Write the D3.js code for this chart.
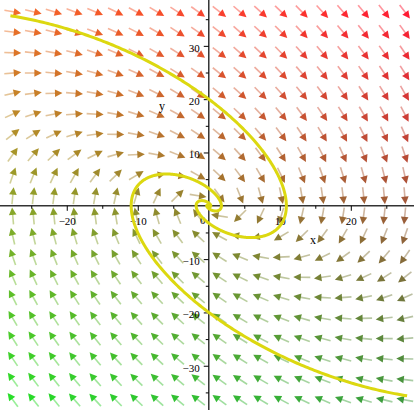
<!DOCTYPE html>
<html>
<head>
<meta charset="utf-8">
<script src="https://cdn.jsdelivr.net/npm/d3@7"></script>
<style>
  body { margin: 0; background: #fff; }
  text { font-family: "Liberation Serif", "DejaVu Serif", serif; }
</style>
</head>
<body>
<div id="chart"></div>
<script>
// system: x' = row1 . (x, y), y' = row2 . (x, y)
const sysRow1 = [0, 1];
const sysRow2 = [-1, -1];

// arrow grid (20 x 20)
const gridX = [-27.6, -24.7, -21.8, -18.9, -16.0, -13.1, -10.2, -7.3, -4.4, -1.5,
               1.5, 4.4, 7.3, 10.2, 13.1, 16.0, 18.9, 21.8, 24.7, 27.6];
const gridY = [36.4, 32.6, 28.7, 24.9, 21.1, 17.2, 13.4, 9.6, 5.7, 1.9,
               -1.9, -5.7, -9.6, -13.4, -17.2, -21.1, -24.9, -28.7, -32.6, -36.4];

// corner colours of the arrows: top-left, top-right, bottom-left, bottom-right
const cornerColors = ["#f0621c", "#ff1028", "#1edc1e", "#349434"];

// solution curves
const initialPoints = [[0, 20], [0, -20]];
const tRange = [-0.97, 25];

// ticks
const xMajor = [-20, -10, 10, 20];
const xMinor = [-25, -15, -5, 5, 15, 25];
const yMajor = [-30, -20, -10, 10, 20, 30];
const yMinor = [-35, -25, -15, -5, 5, 15, 25, 35];

const width = 414;
const height = 410;

const svg = d3.select("#chart")
    .append("svg")
    .attr("width", width)
    .attr("height", height);

// slight softening, like the scaled-down original
svg.append("defs").append("filter")
    .attr("id", "soft")
    .append("feGaussianBlur")
    .attr("stdDeviation", 0.45);

const x = d3.scaleLinear().domain([-29.4, 28.9]).range([0, width]);
const y = d3.scaleLinear().domain([38.6, -38.3]).range([0, height]);

const field = (px, py) => [
  sysRow1[0] * px + sysRow1[1] * py,
  sysRow2[0] * px + sysRow2[1] * py
];

// arrows
const arrows = [];
gridY.forEach((gy, j) => {
  gridX.forEach((gx, i) => {
    arrows.push({gx, gy, i, j});
  });
});

const topColor = d3.interpolateRgb(cornerColors[0], cornerColors[1]);
const bottomColor = d3.interpolateRgb(cornerColors[2], cornerColors[3]);
const colorAt = (i, j) => {
  const u = i / (gridX.length - 1), v = j / (gridY.length - 1);
  return d3.interpolateRgb(topColor(u), bottomColor(u))(v);
};

const L = 17, headL = 7.5, headW = 3.8;
const ag = svg.append("g").attr("filter", "url(#soft)");
arrows.forEach(d => {
  const f = field(d.gx, d.gy);
  const eps = 0.01;
  let sx = x(d.gx + eps * f[0]) - x(d.gx);
  let sy = y(d.gy + eps * f[1]) - y(d.gy);
  const n = Math.hypot(sx, sy) || 1;
  sx /= n; sy /= n;
  const cx = x(d.gx), cy = y(d.gy);
  const tail = [cx - sx * L / 2, cy - sy * L / 2];
  const tip = [cx + sx * L / 2, cy + sy * L / 2];
  const base = [tip[0] - sx * headL, tip[1] - sy * headL];
  const col = colorAt(d.i, d.j);
  ag.append("line")
    .attr("x1", tail[0]).attr("y1", tail[1])
    .attr("x2", base[0] + sx * 1).attr("y2", base[1] + sy * 1)
    .attr("stroke", col)
    .attr("stroke-width", 1.6)
    .attr("stroke-opacity", 0.45);
  ag.append("path")
    .attr("d", `M${tip[0]},${tip[1]}L${base[0] - sy * headW},${base[1] + sx * headW}L${base[0] + sy * headW},${base[1] - sx * headW}Z`)
    .attr("fill", col)
    .attr("fill-opacity", 0.95);
});

// axes
const ox = x(0), oy = y(0);
const axisG = svg.append("g");
axisG.append("line")
  .attr("x1", 0).attr("x2", width).attr("y1", oy).attr("y2", oy)
  .attr("stroke", "#333").attr("stroke-width", 1.5);
axisG.append("line")
  .attr("x1", ox).attr("x2", ox).attr("y1", 0).attr("y2", height)
  .attr("stroke", "#333").attr("stroke-width", 1.5);

svg.append("g")
  .attr("transform", `translate(0,${oy})`)
  .call(d3.axisBottom(x).tickValues(xMinor).tickSize(3).tickFormat(""))
  .call(g => g.select(".domain").remove());
svg.append("g")
  .attr("transform", `translate(0,${oy})`)
  .call(d3.axisBottom(x).tickValues(xMajor).tickSize(5).tickPadding(6).tickFormat(d3.format("d")))
  .call(g => g.select(".domain").remove())
  .call(g => g.selectAll("text").attr("font-size", 11).attr("fill", "#000").style("font-family", "Liberation Serif"));

svg.append("g")
  .attr("transform", `translate(${ox},0)`)
  .call(d3.axisLeft(y).tickValues(yMinor).tickSize(3).tickFormat(""))
  .call(g => g.select(".domain").remove());
svg.append("g")
  .attr("transform", `translate(${ox},0)`)
  .call(d3.axisLeft(y).tickValues(yMajor).tickSize(5).tickPadding(4).tickFormat(d3.format("d")))
  .call(g => g.select(".domain").remove())
  .call(g => g.selectAll("text").attr("font-size", 11).attr("fill", "#000").attr("dy", "0.5em").style("font-family", "Liberation Serif"));

svg.append("text")
  .attr("x", ox - 6).attr("y", oy + 18)
  .attr("text-anchor", "middle")
  .attr("font-size", 11).attr("fill", "#000")
  .text("0");
svg.append("text")
  .attr("x", 313).attr("y", oy + 38)
  .attr("text-anchor", "middle")
  .attr("font-size", 12).attr("fill", "#000")
  .text("x");
svg.append("text")
  .attr("x", 162).attr("y", 110)
  .attr("text-anchor", "middle")
  .attr("font-size", 12).attr("fill", "#000")
  .text("y");

// solution curves (RK4)
function integrate(p0, t1, dt) {
  const pts = [p0.slice()];
  let p = p0.slice();
  const steps = Math.ceil(Math.abs(t1) / Math.abs(dt));
  for (let k = 0; k < steps; k++) {
    const k1 = field(p[0], p[1]);
    const k2 = field(p[0] + dt / 2 * k1[0], p[1] + dt / 2 * k1[1]);
    const k3 = field(p[0] + dt / 2 * k2[0], p[1] + dt / 2 * k2[1]);
    const k4 = field(p[0] + dt * k3[0], p[1] + dt * k3[1]);
    p = [p[0] + dt / 6 * (k1[0] + 2 * k2[0] + 2 * k3[0] + k4[0]),
         p[1] + dt / 6 * (k1[1] + 2 * k2[1] + 2 * k3[1] + k4[1])];
    pts.push(p);
  }
  return pts;
}

const line = d3.line().x(d => x(d[0])).y(d => y(d[1]));
initialPoints.forEach(p0 => {
  const back = integrate(p0, tRange[0], -0.01).reverse();
  const fwd = integrate(p0, tRange[1], 0.01).slice(1);
  svg.append("path")
    .datum(back.concat(fwd))
    .attr("d", line)
    .attr("fill", "none")
    .attr("stroke", "#dcd810")
    .attr("stroke-width", 3);
});
</script>
</body>
</html>
